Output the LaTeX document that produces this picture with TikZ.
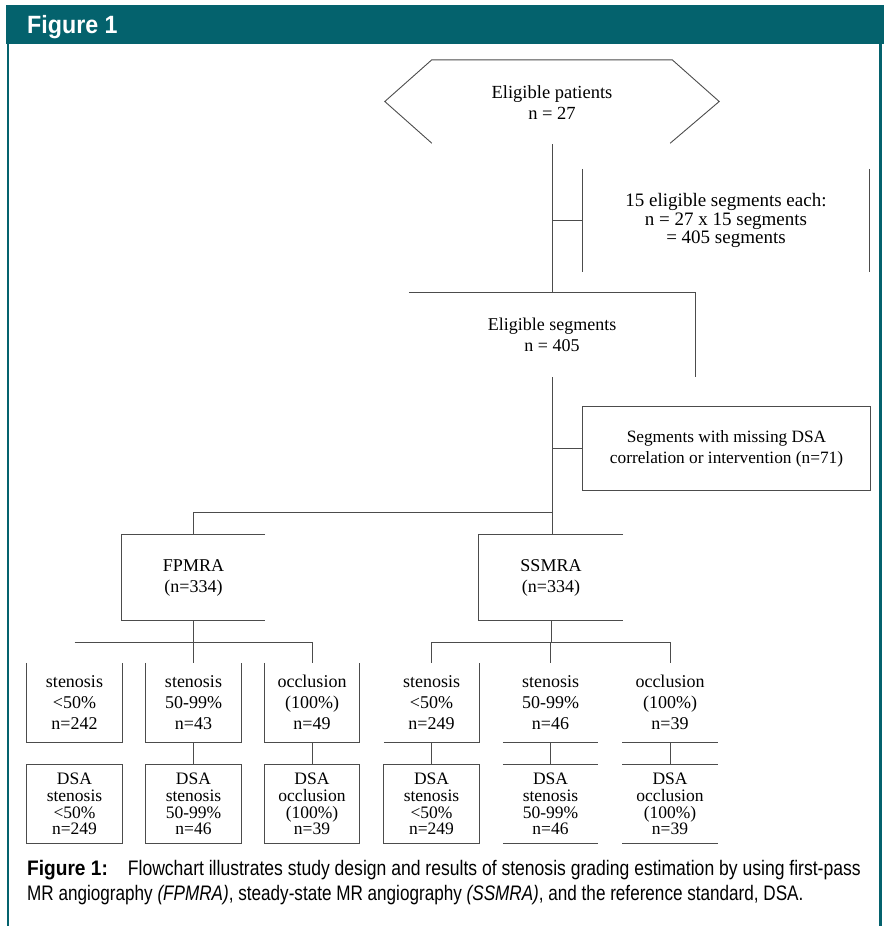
\documentclass[tikz,border=0pt]{standalone}
\usepackage{fontspec}
\setmainfont{Liberation Serif}
\newfontfamily\capfont[FakeStretch=0.836]{Liberation Sans}
\newfontfamily\capfontb[FakeStretch=0.815]{Liberation Sans}
\newfontfamily\capbold[FakeStretch=0.91]{Liberation Sans}
\newfontfamily\hdrfont[FakeStretch=0.93]{Liberation Sans}
\usetikzlibrary{calc}
\definecolor{hdr}{HTML}{04626D}
\begin{document}
\begin{tikzpicture}[x=1pt,y=-1pt,
  ln/.style={line width=0.9pt, draw=black!70},
  txt/.style={font=\fontsize{18}{21}\selectfont, align=center, inner sep=0pt},
  dsatxt/.style={font=\fontsize{17.5}{16.7}\selectfont, align=center, inner sep=0pt},
  topbox/.style={txt, minimum width=95, minimum height=79},
  dsabox/.style={dsatxt, minimum width=95, minimum height=78}]
\useasboundingbox (0,0) rectangle (886,926);
% frame
\fill[hdr] (6,5) rectangle (884,44);
\draw[hdr, line width=2.5pt] (8,44) -- (8,926);
\draw[hdr, line width=2.5pt] (880.5,44) -- (880.5,926);
\node[anchor=base west, inner sep=0pt, text=white, font=\hdrfont\bfseries\fontsize{25}{25}\selectfont] (title) at (27,33) {Figure 1};

% top hexagon
\node[txt, font=\fontsize{18.5}{21}\selectfont, minimum width=334, minimum height=83] (pat) at (552,102.5) {Eligible patients\\n = 27};
\draw[ln] ($(pat.south west)+(47,-1)$) -- ($(pat.west)+(0,-1)$) -- ($(pat.north west)+(47,-1)$) -- ($(pat.north east)+(-47,-1)$) -- ($(pat.east)+(0,-1)$) -- ($(pat.south east)+(-49,-1)$);

% side note
\node[txt, font=\fontsize{19}{18.5}\selectfont, minimum width=286, minimum height=103] (each) at (726,220.5) {15 eligible segments each:\\n = 27 x 15 segments\\= 405 segments};
\draw[ln] (each.north west) -- (each.south west);
\draw[ln] (each.north east) -- (each.south east);

% eligible segments
\node[txt, minimum width=286, minimum height=84] (seg) at (552,335) {Eligible segments\\n = 405};
\draw[ln] (seg.north west) -- (seg.north east) -- (seg.south east);

% missing
\node[txt, font=\fontsize{17.3}{21}\selectfont, minimum width=287, minimum height=83] (miss) at (726.5,448.5) {Segments with missing DSA\\correlation or intervention (n=71)};
\draw[ln] (miss.north west) rectangle (miss.south east);

% FPMRA / SSMRA
\node[txt, minimum width=143, minimum height=85] (fp) at (193.5,577.5) {FPMRA\\(n=334)};
\node[txt, minimum width=144, minimum height=85] (ss) at (551,577.5) {SSMRA\\(n=334)};
\draw[ln] (fp.north east) -- (fp.north west) -- (fp.south west) -- (fp.south east);
\draw[ln] (ss.north east) -- (ss.north west) -- (ss.south west) -- (ss.south east);

% connectors upper part
\coordinate (split) at (552,512);
\draw[ln] (pat.south) -- (seg.north);
\draw[ln] (pat.south |- each.west) -- (each.west);
\draw[ln] (seg.south) -- (split);
\draw[ln] (seg.south |- miss.west) -- (miss.west);
\draw[ln] (split) -- (split -| fp.north) -- (fp.north);
\draw[ln] (split) -- (split |- ss.north);

% result boxes
\node[topbox] (a1) at (74.5,702.5) {stenosis\\{<}50\%\\n=242};
\node[topbox] (a2) at (193.5,702.5) {stenosis\\50-99\%\\n=43};
\node[topbox] (a3) at (312,702.5) {occlusion\\(100\%)\\n=49};
\node[topbox] (a4) at (431.5,702.5) {stenosis\\{<}50\%\\n=249};
\node[topbox] (a5) at (550.5,702.5) {stenosis\\50-99\%\\n=46};
\node[topbox] (a6) at (670,702.5) {occlusion\\(100\%)\\n=39};

\node[dsabox] (d1) at (74.5,804) {DSA\\stenosis\\{<}50\%\\n=249};
\node[dsabox] (d2) at (193.5,804) {DSA\\stenosis\\50-99\%\\n=46};
\node[dsabox] (d3) at (312,804) {DSA\\occlusion\\(100\%)\\n=39};
\node[dsabox] (d4) at (431.5,804) {DSA\\stenosis\\{<}50\%\\n=249};
\node[dsabox] (d5) at (550.5,804) {DSA\\stenosis\\50-99\%\\n=46};
\node[dsabox] (d6) at (670,804) {DSA\\occlusion\\(100\%)\\n=39};

\foreach \b in {a1,a2,a3}{\draw[ln] (\b.north west) -- (\b.south west) -- (\b.south east) -- (\b.north east);}
\draw[ln] (a4.south west) -- (a4.south east) -- (a4.north east);
\foreach \b in {a5,a6}{\draw[ln] (\b.south west) -- (\b.south east);}
\foreach \b in {d1,d2,d3,d4}{\draw[ln] (\b.north west) rectangle (\b.south east);}
\foreach \b in {d5,d6}{\draw[ln] (\b.north west) -- (\b.north east); \draw[ln] (\b.south west) -- (\b.south east);}

% lower connectors
\coordinate (fsplit) at (193.5,642);
\coordinate (ssplit) at (551,642);
\draw[ln] (fp.south) -- (fsplit);
\draw[ln] (fsplit -| a1.north) -- (fsplit -| a3.north);
\draw[ln] (fsplit) -- (a2.north);
\draw[ln] (fsplit -| a3.north) -- (a3.north);
\draw[ln] (ss.south) -- (ssplit);
\draw[ln] (ssplit -| a4.north) -- (ssplit -| a6.north);
\draw[ln] (ssplit -| a4.north) -- (a4.north);
\draw[ln] (ssplit -| a5.north) -- (a5.north);
\draw[ln] (ssplit -| a6.north) -- (a6.north);
\foreach \i in {2,...,6}{\draw[ln] (a\i.south) -- (d\i.north);}

% caption
\node[anchor=base west, inner sep=0pt, font=\capfont\fontsize{21}{25}\selectfont] (cap1) at (27,875) {{\capbold\bfseries Figure 1:}\hspace{20pt}Flowchart illustrates study design and results of stenosis grading estimation by using first-pass};
\node[anchor=base west, inner sep=0pt, font=\capfontb\fontsize{21}{25}\selectfont] (cap2) at (27,900) {MR angiography \textit{(FPMRA)}, steady-state MR angiography \textit{(SSMRA)}, and the reference standard, DSA.};
\end{tikzpicture}
\end{document}
